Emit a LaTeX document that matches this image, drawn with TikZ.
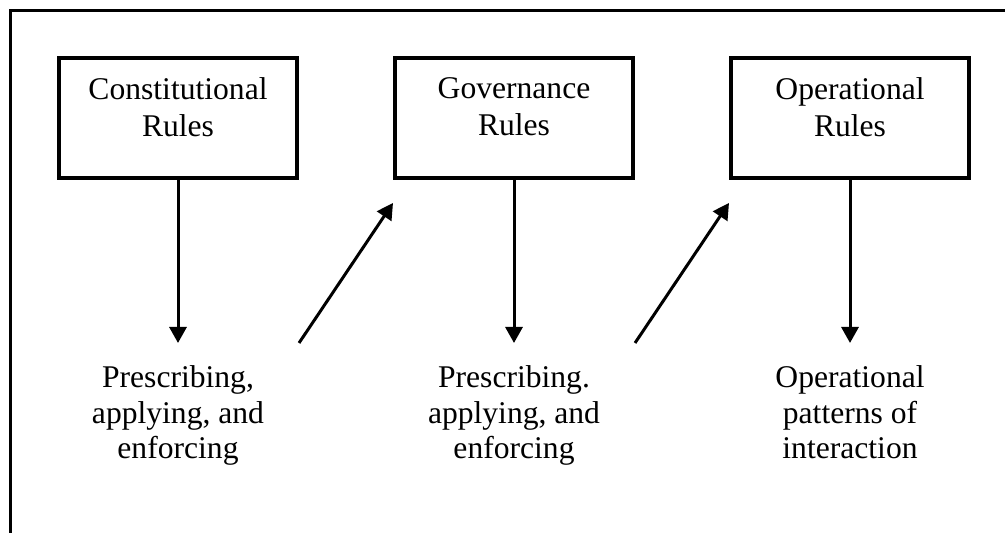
\documentclass[tikz,border=0pt]{standalone}
\usepackage{fontspec}
\setmainfont{Liberation Serif}
\usetikzlibrary{arrows.meta, positioning}

\begin{document}
\begin{tikzpicture}[x=0.5pt, y=-0.5pt, node distance=47pt, >={Triangle[length=8pt, width=8.5pt]},
    rulebox/.style={draw, line width=2pt, minimum width=119pt, minimum height=60pt, inner sep=0pt},
    ruletext/.style={align=center, inner sep=0pt, anchor=north, yshift=-10.5pt, font=\fontsize{15.8}{18.6}\selectfont},
    outtext/.style={align=center, inner xsep=0pt, inner ysep=11pt, font=\fontsize{15.8}{17.9}\selectfont}]
\useasboundingbox (0,0) rectangle (1005,533);
\draw[line width=1.7pt] (10.5,545) -- (10.5,10.5) -- (1015,10.5);
\draw
    node [rulebox, label={[ruletext]north:Constitutional\\Rules}] (constitutional) at (178,118) {}
    node [rulebox, right=of constitutional, label={[ruletext]north:Governance\\Rules}] (governance) {}
    node [rulebox, right=of governance, label={[ruletext]north:Operational\\Rules}] (operational) {}
    node [outtext, below=81.5pt of constitutional] (prescribing1) {Prescribing,\\applying, and\\enforcing}
    node [outtext, below=81.5pt of governance] (prescribing2) {Prescribing.\\applying, and\\enforcing}
    node [outtext, below=81.5pt of operational] (patterns) {Operational\\patterns of\\interaction}
;
\draw[->, line width=1.5pt] (constitutional.south) -- (prescribing1.north);
\draw[->, line width=1.5pt] (governance.south) -- (prescribing2.north);
\draw[->, line width=1.5pt] (operational.south) -- (patterns.north);
\draw[->, line width=1.5pt] (constitutional.east |- prescribing1.north) -- ([yshift=-11.5pt]governance.south west);
\draw[->, line width=1.5pt] (governance.east |- prescribing2.north) -- ([yshift=-11.5pt]operational.south west);
\end{tikzpicture}
\end{document}
